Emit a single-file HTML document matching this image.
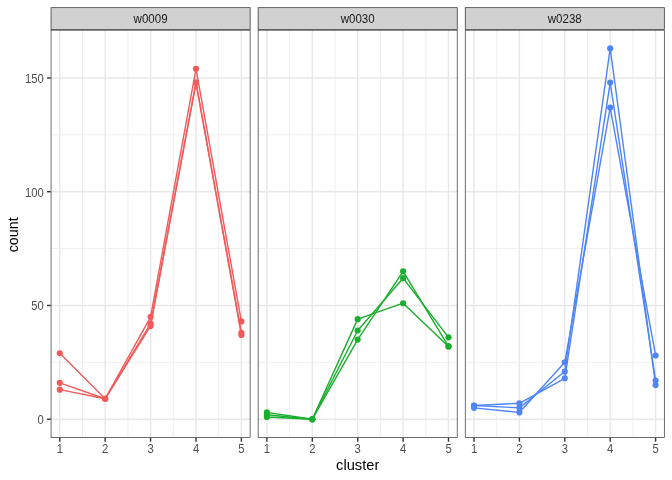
<!DOCTYPE html><html><head><meta charset="utf-8"><style>html,body{margin:0;padding:0;background:#fff;}svg{display:block;will-change:transform;}</style></head><body><svg width="672" height="480" viewBox="0 0 672 480" font-family="Liberation Sans, sans-serif">
<rect width="672" height="480" fill="#fff"/>
<line x1="50.70" x2="250.47" y1="362.35" y2="362.35" stroke="#E8E8E8" stroke-width="0.710"/>
<line x1="50.70" x2="250.47" y1="248.60" y2="248.60" stroke="#E8E8E8" stroke-width="0.710"/>
<line x1="50.70" x2="250.47" y1="134.84" y2="134.84" stroke="#E8E8E8" stroke-width="0.710"/>
<line x1="82.48" x2="82.48" y1="29.85" y2="437.77" stroke="#E8E8E8" stroke-width="0.710"/>
<line x1="127.88" x2="127.88" y1="29.85" y2="437.77" stroke="#E8E8E8" stroke-width="0.710"/>
<line x1="173.29" x2="173.29" y1="29.85" y2="437.77" stroke="#E8E8E8" stroke-width="0.710"/>
<line x1="218.69" x2="218.69" y1="29.85" y2="437.77" stroke="#E8E8E8" stroke-width="0.710"/>
<line x1="50.70" x2="250.47" y1="419.23" y2="419.23" stroke="#E8E8E8" stroke-width="1.420"/>
<line x1="50.70" x2="250.47" y1="305.47" y2="305.47" stroke="#E8E8E8" stroke-width="1.420"/>
<line x1="50.70" x2="250.47" y1="191.72" y2="191.72" stroke="#E8E8E8" stroke-width="1.420"/>
<line x1="50.70" x2="250.47" y1="77.97" y2="77.97" stroke="#E8E8E8" stroke-width="1.420"/>
<line x1="59.78" x2="59.78" y1="29.85" y2="437.77" stroke="#E8E8E8" stroke-width="1.420"/>
<line x1="105.18" x2="105.18" y1="29.85" y2="437.77" stroke="#E8E8E8" stroke-width="1.420"/>
<line x1="150.59" x2="150.59" y1="29.85" y2="437.77" stroke="#E8E8E8" stroke-width="1.420"/>
<line x1="195.99" x2="195.99" y1="29.85" y2="437.77" stroke="#E8E8E8" stroke-width="1.420"/>
<line x1="241.39" x2="241.39" y1="29.85" y2="437.77" stroke="#E8E8E8" stroke-width="1.420"/>
<polyline points="59.78,353.25 105.18,398.75 150.59,316.85 195.99,68.87 241.39,321.40" fill="none" stroke="#F25A5A" stroke-width="1.42" stroke-linejoin="round" stroke-linecap="butt"/>
<polyline points="59.78,382.83 105.18,398.75 150.59,323.68 195.99,82.52 241.39,332.78" fill="none" stroke="#F25A5A" stroke-width="1.42" stroke-linejoin="round" stroke-linecap="butt"/>
<polyline points="59.78,389.65 105.18,398.75 150.59,325.95 195.99,82.52 241.39,335.05" fill="none" stroke="#F25A5A" stroke-width="1.42" stroke-linejoin="round" stroke-linecap="butt"/>
<circle cx="59.78" cy="353.25" r="3.07" fill="#F25A5A"/>
<circle cx="105.18" cy="398.75" r="3.07" fill="#F25A5A"/>
<circle cx="150.59" cy="316.85" r="3.07" fill="#F25A5A"/>
<circle cx="195.99" cy="68.87" r="3.07" fill="#F25A5A"/>
<circle cx="241.39" cy="321.40" r="3.07" fill="#F25A5A"/>
<circle cx="59.78" cy="382.83" r="3.07" fill="#F25A5A"/>
<circle cx="105.18" cy="398.75" r="3.07" fill="#F25A5A"/>
<circle cx="150.59" cy="323.68" r="3.07" fill="#F25A5A"/>
<circle cx="195.99" cy="82.52" r="3.07" fill="#F25A5A"/>
<circle cx="241.39" cy="332.78" r="3.07" fill="#F25A5A"/>
<circle cx="59.78" cy="389.65" r="3.07" fill="#F25A5A"/>
<circle cx="105.18" cy="398.75" r="3.07" fill="#F25A5A"/>
<circle cx="150.59" cy="325.95" r="3.07" fill="#F25A5A"/>
<circle cx="195.99" cy="82.52" r="3.07" fill="#F25A5A"/>
<circle cx="241.39" cy="335.05" r="3.07" fill="#F25A5A"/>
<rect x="51.055" y="30.205" width="199.060" height="407.210" fill="none" stroke="#333" stroke-width="0.71"/>
<rect x="50.700" y="7.333" width="199.770" height="22.517" fill="#D1D1D1"/>
<rect x="51.055" y="7.688" width="199.060" height="21.807" fill="none" stroke="#333" stroke-width="0.71"/>
<text transform="translate(150.59,22.6) scale(0.93,1)" font-size="12.4" fill="#1A1A1A" text-anchor="middle">w0009</text>
<line x1="59.78" x2="59.78" y1="437.77" y2="441.72" stroke="#333" stroke-width="1.42"/>
<text transform="translate(59.78,452.8) scale(0.905,1)" font-size="12.4" fill="#4D4D4D" text-anchor="middle">1</text>
<line x1="105.18" x2="105.18" y1="437.77" y2="441.72" stroke="#333" stroke-width="1.42"/>
<text transform="translate(105.18,452.8) scale(0.905,1)" font-size="12.4" fill="#4D4D4D" text-anchor="middle">2</text>
<line x1="150.59" x2="150.59" y1="437.77" y2="441.72" stroke="#333" stroke-width="1.42"/>
<text transform="translate(150.59,452.8) scale(0.905,1)" font-size="12.4" fill="#4D4D4D" text-anchor="middle">3</text>
<line x1="195.99" x2="195.99" y1="437.77" y2="441.72" stroke="#333" stroke-width="1.42"/>
<text transform="translate(195.99,452.8) scale(0.905,1)" font-size="12.4" fill="#4D4D4D" text-anchor="middle">4</text>
<line x1="241.39" x2="241.39" y1="437.77" y2="441.72" stroke="#333" stroke-width="1.42"/>
<text transform="translate(241.39,452.8) scale(0.905,1)" font-size="12.4" fill="#4D4D4D" text-anchor="middle">5</text>
<line x1="257.80" x2="457.57" y1="362.35" y2="362.35" stroke="#E8E8E8" stroke-width="0.710"/>
<line x1="257.80" x2="457.57" y1="248.60" y2="248.60" stroke="#E8E8E8" stroke-width="0.710"/>
<line x1="257.80" x2="457.57" y1="134.84" y2="134.84" stroke="#E8E8E8" stroke-width="0.710"/>
<line x1="289.58" x2="289.58" y1="29.85" y2="437.77" stroke="#E8E8E8" stroke-width="0.710"/>
<line x1="334.99" x2="334.99" y1="29.85" y2="437.77" stroke="#E8E8E8" stroke-width="0.710"/>
<line x1="380.39" x2="380.39" y1="29.85" y2="437.77" stroke="#E8E8E8" stroke-width="0.710"/>
<line x1="425.79" x2="425.79" y1="29.85" y2="437.77" stroke="#E8E8E8" stroke-width="0.710"/>
<line x1="257.80" x2="457.57" y1="419.23" y2="419.23" stroke="#E8E8E8" stroke-width="1.420"/>
<line x1="257.80" x2="457.57" y1="305.47" y2="305.47" stroke="#E8E8E8" stroke-width="1.420"/>
<line x1="257.80" x2="457.57" y1="191.72" y2="191.72" stroke="#E8E8E8" stroke-width="1.420"/>
<line x1="257.80" x2="457.57" y1="77.97" y2="77.97" stroke="#E8E8E8" stroke-width="1.420"/>
<line x1="266.88" x2="266.88" y1="29.85" y2="437.77" stroke="#E8E8E8" stroke-width="1.420"/>
<line x1="312.29" x2="312.29" y1="29.85" y2="437.77" stroke="#E8E8E8" stroke-width="1.420"/>
<line x1="357.69" x2="357.69" y1="29.85" y2="437.77" stroke="#E8E8E8" stroke-width="1.420"/>
<line x1="403.09" x2="403.09" y1="29.85" y2="437.77" stroke="#E8E8E8" stroke-width="1.420"/>
<line x1="448.49" x2="448.49" y1="29.85" y2="437.77" stroke="#E8E8E8" stroke-width="1.420"/>
<polyline points="266.88,412.40 312.29,419.23 357.69,319.13 403.09,303.20 448.49,346.43" fill="none" stroke="#1AAE2E" stroke-width="1.42" stroke-linejoin="round" stroke-linecap="butt"/>
<polyline points="266.88,414.68 312.29,419.23 357.69,330.50 403.09,278.17 448.49,337.33" fill="none" stroke="#1AAE2E" stroke-width="1.42" stroke-linejoin="round" stroke-linecap="butt"/>
<polyline points="266.88,416.95 312.29,419.23 357.69,339.60 403.09,271.35 448.49,346.43" fill="none" stroke="#1AAE2E" stroke-width="1.42" stroke-linejoin="round" stroke-linecap="butt"/>
<circle cx="266.88" cy="412.40" r="3.07" fill="#1AAE2E"/>
<circle cx="312.29" cy="419.23" r="3.07" fill="#1AAE2E"/>
<circle cx="357.69" cy="319.13" r="3.07" fill="#1AAE2E"/>
<circle cx="403.09" cy="303.20" r="3.07" fill="#1AAE2E"/>
<circle cx="448.49" cy="346.43" r="3.07" fill="#1AAE2E"/>
<circle cx="266.88" cy="414.68" r="3.07" fill="#1AAE2E"/>
<circle cx="312.29" cy="419.23" r="3.07" fill="#1AAE2E"/>
<circle cx="357.69" cy="330.50" r="3.07" fill="#1AAE2E"/>
<circle cx="403.09" cy="278.17" r="3.07" fill="#1AAE2E"/>
<circle cx="448.49" cy="337.33" r="3.07" fill="#1AAE2E"/>
<circle cx="266.88" cy="416.95" r="3.07" fill="#1AAE2E"/>
<circle cx="312.29" cy="419.23" r="3.07" fill="#1AAE2E"/>
<circle cx="357.69" cy="339.60" r="3.07" fill="#1AAE2E"/>
<circle cx="403.09" cy="271.35" r="3.07" fill="#1AAE2E"/>
<circle cx="448.49" cy="346.43" r="3.07" fill="#1AAE2E"/>
<rect x="258.158" y="30.205" width="199.060" height="407.210" fill="none" stroke="#333" stroke-width="0.71"/>
<rect x="257.803" y="7.333" width="199.770" height="22.517" fill="#D1D1D1"/>
<rect x="258.158" y="7.688" width="199.060" height="21.807" fill="none" stroke="#333" stroke-width="0.71"/>
<text transform="translate(357.69,22.6) scale(0.93,1)" font-size="12.4" fill="#1A1A1A" text-anchor="middle">w0030</text>
<line x1="266.88" x2="266.88" y1="437.77" y2="441.72" stroke="#333" stroke-width="1.42"/>
<text transform="translate(266.88,452.8) scale(0.905,1)" font-size="12.4" fill="#4D4D4D" text-anchor="middle">1</text>
<line x1="312.29" x2="312.29" y1="437.77" y2="441.72" stroke="#333" stroke-width="1.42"/>
<text transform="translate(312.29,452.8) scale(0.905,1)" font-size="12.4" fill="#4D4D4D" text-anchor="middle">2</text>
<line x1="357.69" x2="357.69" y1="437.77" y2="441.72" stroke="#333" stroke-width="1.42"/>
<text transform="translate(357.69,452.8) scale(0.905,1)" font-size="12.4" fill="#4D4D4D" text-anchor="middle">3</text>
<line x1="403.09" x2="403.09" y1="437.77" y2="441.72" stroke="#333" stroke-width="1.42"/>
<text transform="translate(403.09,452.8) scale(0.905,1)" font-size="12.4" fill="#4D4D4D" text-anchor="middle">4</text>
<line x1="448.49" x2="448.49" y1="437.77" y2="441.72" stroke="#333" stroke-width="1.42"/>
<text transform="translate(448.49,452.8) scale(0.905,1)" font-size="12.4" fill="#4D4D4D" text-anchor="middle">5</text>
<line x1="464.91" x2="664.68" y1="362.35" y2="362.35" stroke="#E8E8E8" stroke-width="0.710"/>
<line x1="464.91" x2="664.68" y1="248.60" y2="248.60" stroke="#E8E8E8" stroke-width="0.710"/>
<line x1="464.91" x2="664.68" y1="134.84" y2="134.84" stroke="#E8E8E8" stroke-width="0.710"/>
<line x1="496.69" x2="496.69" y1="29.85" y2="437.77" stroke="#E8E8E8" stroke-width="0.710"/>
<line x1="542.09" x2="542.09" y1="29.85" y2="437.77" stroke="#E8E8E8" stroke-width="0.710"/>
<line x1="587.49" x2="587.49" y1="29.85" y2="437.77" stroke="#E8E8E8" stroke-width="0.710"/>
<line x1="632.89" x2="632.89" y1="29.85" y2="437.77" stroke="#E8E8E8" stroke-width="0.710"/>
<line x1="464.91" x2="664.68" y1="419.23" y2="419.23" stroke="#E8E8E8" stroke-width="1.420"/>
<line x1="464.91" x2="664.68" y1="305.47" y2="305.47" stroke="#E8E8E8" stroke-width="1.420"/>
<line x1="464.91" x2="664.68" y1="191.72" y2="191.72" stroke="#E8E8E8" stroke-width="1.420"/>
<line x1="464.91" x2="664.68" y1="77.97" y2="77.97" stroke="#E8E8E8" stroke-width="1.420"/>
<line x1="473.99" x2="473.99" y1="29.85" y2="437.77" stroke="#E8E8E8" stroke-width="1.420"/>
<line x1="519.39" x2="519.39" y1="29.85" y2="437.77" stroke="#E8E8E8" stroke-width="1.420"/>
<line x1="564.79" x2="564.79" y1="29.85" y2="437.77" stroke="#E8E8E8" stroke-width="1.420"/>
<line x1="610.19" x2="610.19" y1="29.85" y2="437.77" stroke="#E8E8E8" stroke-width="1.420"/>
<line x1="655.60" x2="655.60" y1="29.85" y2="437.77" stroke="#E8E8E8" stroke-width="1.420"/>
<polyline points="473.99,405.58 519.39,403.30 564.79,378.28 610.19,82.52 655.60,380.55" fill="none" stroke="#4F86F7" stroke-width="1.42" stroke-linejoin="round" stroke-linecap="butt"/>
<polyline points="473.99,405.58 519.39,407.85 564.79,371.45 610.19,48.39 655.60,385.10" fill="none" stroke="#4F86F7" stroke-width="1.42" stroke-linejoin="round" stroke-linecap="butt"/>
<polyline points="473.99,407.85 519.39,412.40 564.79,362.35 610.19,107.54 655.60,355.53" fill="none" stroke="#4F86F7" stroke-width="1.42" stroke-linejoin="round" stroke-linecap="butt"/>
<circle cx="473.99" cy="405.58" r="3.07" fill="#4F86F7"/>
<circle cx="519.39" cy="403.30" r="3.07" fill="#4F86F7"/>
<circle cx="564.79" cy="378.28" r="3.07" fill="#4F86F7"/>
<circle cx="610.19" cy="82.52" r="3.07" fill="#4F86F7"/>
<circle cx="655.60" cy="380.55" r="3.07" fill="#4F86F7"/>
<circle cx="473.99" cy="405.58" r="3.07" fill="#4F86F7"/>
<circle cx="519.39" cy="407.85" r="3.07" fill="#4F86F7"/>
<circle cx="564.79" cy="371.45" r="3.07" fill="#4F86F7"/>
<circle cx="610.19" cy="48.39" r="3.07" fill="#4F86F7"/>
<circle cx="655.60" cy="385.10" r="3.07" fill="#4F86F7"/>
<circle cx="473.99" cy="407.85" r="3.07" fill="#4F86F7"/>
<circle cx="519.39" cy="412.40" r="3.07" fill="#4F86F7"/>
<circle cx="564.79" cy="362.35" r="3.07" fill="#4F86F7"/>
<circle cx="610.19" cy="107.54" r="3.07" fill="#4F86F7"/>
<circle cx="655.60" cy="355.53" r="3.07" fill="#4F86F7"/>
<rect x="465.261" y="30.205" width="199.060" height="407.210" fill="none" stroke="#333" stroke-width="0.71"/>
<rect x="464.906" y="7.333" width="199.770" height="22.517" fill="#D1D1D1"/>
<rect x="465.261" y="7.688" width="199.060" height="21.807" fill="none" stroke="#333" stroke-width="0.71"/>
<text transform="translate(564.79,22.6) scale(0.93,1)" font-size="12.4" fill="#1A1A1A" text-anchor="middle">w0238</text>
<line x1="473.99" x2="473.99" y1="437.77" y2="441.72" stroke="#333" stroke-width="1.42"/>
<text transform="translate(473.99,452.8) scale(0.905,1)" font-size="12.4" fill="#4D4D4D" text-anchor="middle">1</text>
<line x1="519.39" x2="519.39" y1="437.77" y2="441.72" stroke="#333" stroke-width="1.42"/>
<text transform="translate(519.39,452.8) scale(0.905,1)" font-size="12.4" fill="#4D4D4D" text-anchor="middle">2</text>
<line x1="564.79" x2="564.79" y1="437.77" y2="441.72" stroke="#333" stroke-width="1.42"/>
<text transform="translate(564.79,452.8) scale(0.905,1)" font-size="12.4" fill="#4D4D4D" text-anchor="middle">3</text>
<line x1="610.19" x2="610.19" y1="437.77" y2="441.72" stroke="#333" stroke-width="1.42"/>
<text transform="translate(610.19,452.8) scale(0.905,1)" font-size="12.4" fill="#4D4D4D" text-anchor="middle">4</text>
<line x1="655.60" x2="655.60" y1="437.77" y2="441.72" stroke="#333" stroke-width="1.42"/>
<text transform="translate(655.60,452.8) scale(0.905,1)" font-size="12.4" fill="#4D4D4D" text-anchor="middle">5</text>
<line x1="47.03" x2="50.70" y1="419.23" y2="419.23" stroke="#333" stroke-width="1.42"/>
<text transform="translate(43.75,424.23) scale(0.905,1)" font-size="12.4" fill="#4D4D4D" text-anchor="end">0</text>
<line x1="47.03" x2="50.70" y1="305.47" y2="305.47" stroke="#333" stroke-width="1.42"/>
<text transform="translate(43.75,310.47) scale(0.905,1)" font-size="12.4" fill="#4D4D4D" text-anchor="end">50</text>
<line x1="47.03" x2="50.70" y1="191.72" y2="191.72" stroke="#333" stroke-width="1.42"/>
<text transform="translate(43.75,196.72) scale(0.905,1)" font-size="12.4" fill="#4D4D4D" text-anchor="end">100</text>
<line x1="47.03" x2="50.70" y1="77.97" y2="77.97" stroke="#333" stroke-width="1.42"/>
<text transform="translate(43.75,82.97) scale(0.905,1)" font-size="12.4" fill="#4D4D4D" text-anchor="end">150</text>
<text x="357.7" y="469.8" font-size="14.67" fill="#000" text-anchor="middle">cluster</text>
<text transform="translate(17.8,234.8) rotate(-90) scale(0.977,1)" x="0" y="0" font-size="14.67" fill="#000" text-anchor="middle">count</text>
</svg></body></html>
